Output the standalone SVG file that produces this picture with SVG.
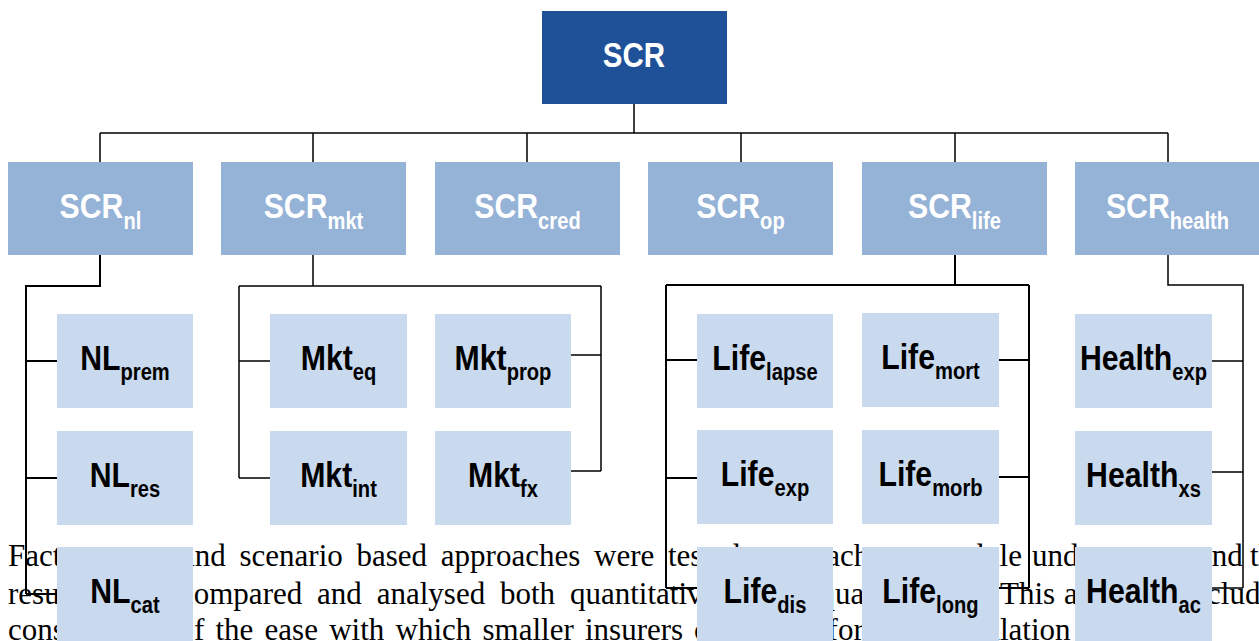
<svg xmlns="http://www.w3.org/2000/svg" width="1259" height="641" viewBox="0 0 1259 641">
<style>
.para{font-family:"Liberation Serif","Times New Roman",serif;font-size:31px;fill:#000}
.top{fill:#1F5199}
.mid{fill:#95B3D7}
.leaf{fill:#C9D9EE}
.lbl{font-family:"Liberation Sans","Arial",sans-serif;font-weight:bold;font-size:36px;text-anchor:middle}
.w{fill:#fff}
.b{fill:#000}
.sub{font-size:24px}
.conn{stroke:#000;stroke-width:1.5;fill:none}
.thick{stroke-width:2}
</style>
<rect width="1259" height="641" fill="#fff"/>
<g id="paragraph" class="para">
<text y="566"><tspan x="8">Factor</tspan><tspan x="181">and</tspan><tspan x="239.5">scenario</tspan><tspan x="356.5">based</tspan><tspan x="440.8">approaches</tspan><tspan x="594">were</tspan><tspan x="668">tested</tspan><tspan x="812.5">each</tspan><tspan x="929">module</tspan><tspan x="1032">under</tspan><tspan x="1198">and</tspan><tspan x="1250">the</tspan></text>
<text y="604"><tspan x="8">results</tspan><tspan x="180">compared</tspan><tspan x="317">and</tspan><tspan x="376.7">analysed</tspan><tspan x="500">both</tspan><tspan x="570">quantitatively</tspan><tspan x="819.5">qualitatively.</tspan><tspan x="1000">This</tspan><tspan x="1064">analysis</tspan><tspan x="1183">included</tspan></text>
<text y="640"><tspan x="8">consideration</tspan><tspan x="178.5">of</tspan><tspan x="215.5">the</tspan><tspan x="264.6">ease</tspan><tspan x="329.2">with</tspan><tspan x="395.5">which</tspan><tspan x="482.5">smaller</tspan><tspan x="585">insurers</tspan><tspan x="694">could</tspan><tspan x="788">perform</tspan><tspan x="934.6">calculation</tspan></text>
</g>
<g id="connectors" class="conn">
<path d="M634 104V133M100 133H1168M100 133V162M313 133V162M527 133V162M741 133V162M955 133V162M1168 133V162"/>
<path class="thick" d="M100 255V286H26V594M26 361H57M26 478H57M26 594H57"/>
<path d="M313 255V286M239 286H601M239 286V478M239 361H270M239 478H270M601 286V471M571 355H601M571 471H601"/>
<path class="thick" d="M955 255V285M666 285H1029M666 285V588M666 360H697M666 478H697M666 588H697M1029 285V588M999 360H1029M999 477H1029M999 588H1029"/>
<path d="M1168 255V285H1243V588M1212 361H1243M1212 472H1243M1212 588H1243"/>
</g>
<g id="scr"><rect class="top" x="542" y="11" width="185" height="93"/><text class="lbl w" transform="translate(634 67) scale(0.82 1)">SCR</text></g>
<g id="scr-nl"><rect class="mid" x="8" y="162" width="185" height="93"/><text class="lbl w" transform="translate(100.5 218) scale(0.84 1)">SCR<tspan class="sub" dy="11">nl</tspan></text></g>
<g id="scr-mkt"><rect class="mid" x="221" y="162" width="185" height="93"/><text class="lbl w" transform="translate(313.5 218) scale(0.84 1)">SCR<tspan class="sub" dy="11">mkt</tspan></text></g>
<g id="scr-cred"><rect class="mid" x="435" y="162" width="185" height="93"/><text class="lbl w" transform="translate(527.5 218) scale(0.84 1)">SCR<tspan class="sub" dy="11">cred</tspan></text></g>
<g id="scr-op"><rect class="mid" x="648" y="162" width="185" height="93"/><text class="lbl w" transform="translate(740.5 218) scale(0.84 1)">SCR<tspan class="sub" dy="11">op</tspan></text></g>
<g id="scr-life"><rect class="mid" x="862" y="162" width="185" height="93"/><text class="lbl w" transform="translate(954.5 218) scale(0.84 1)">SCR<tspan class="sub" dy="11">life</tspan></text></g>
<g id="scr-health"><rect class="mid" x="1075" y="162" width="185" height="93"/><text class="lbl w" transform="translate(1167.5 218) scale(0.84 1)">SCR<tspan class="sub" dy="11">health</tspan></text></g>
<g id="nl-prem"><rect class="leaf" x="57" y="314" width="136" height="94"/><text class="lbl b" transform="translate(125 370) scale(0.84 1)">NL<tspan class="sub" dy="10">prem</tspan></text></g>
<g id="nl-res"><rect class="leaf" x="57" y="431" width="136" height="94"/><text class="lbl b" transform="translate(125 487) scale(0.84 1)">NL<tspan class="sub" dy="10">res</tspan></text></g>
<g id="nl-cat"><rect class="leaf" x="57" y="547" width="136" height="94"/><text class="lbl b" transform="translate(125 603) scale(0.84 1)">NL<tspan class="sub" dy="10">cat</tspan></text></g>
<g id="mkt-eq"><rect class="leaf" x="270" y="314" width="137" height="94"/><text class="lbl b" transform="translate(338.5 370) scale(0.84 1)">Mkt<tspan class="sub" dy="10">eq</tspan></text></g>
<g id="mkt-int"><rect class="leaf" x="270" y="431" width="137" height="94"/><text class="lbl b" transform="translate(338.5 487) scale(0.84 1)">Mkt<tspan class="sub" dy="10">int</tspan></text></g>
<g id="mkt-prop"><rect class="leaf" x="435" y="314" width="136" height="94"/><text class="lbl b" transform="translate(503 370) scale(0.84 1)">Mkt<tspan class="sub" dy="10">prop</tspan></text></g>
<g id="mkt-fx"><rect class="leaf" x="435" y="431" width="136" height="94"/><text class="lbl b" transform="translate(503 487) scale(0.84 1)">Mkt<tspan class="sub" dy="10">fx</tspan></text></g>
<g id="life-lapse"><rect class="leaf" x="697" y="314" width="136" height="94"/><text class="lbl b" transform="translate(765 370) scale(0.84 1)">Life<tspan class="sub" dy="10">lapse</tspan></text></g>
<g id="life-mort"><rect class="leaf" x="862" y="313" width="137" height="94"/><text class="lbl b" transform="translate(930.5 369) scale(0.84 1)">Life<tspan class="sub" dy="10">mort</tspan></text></g>
<g id="life-exp"><rect class="leaf" x="697" y="430" width="136" height="94"/><text class="lbl b" transform="translate(765 486) scale(0.84 1)">Life<tspan class="sub" dy="10">exp</tspan></text></g>
<g id="life-morb"><rect class="leaf" x="862" y="430" width="137" height="94"/><text class="lbl b" transform="translate(930.5 486) scale(0.84 1)">Life<tspan class="sub" dy="10">morb</tspan></text></g>
<g id="life-dis"><rect class="leaf" x="697" y="547" width="136" height="94"/><text class="lbl b" transform="translate(765 603) scale(0.84 1)">Life<tspan class="sub" dy="10">dis</tspan></text></g>
<g id="life-long"><rect class="leaf" x="862" y="547" width="137" height="94"/><text class="lbl b" transform="translate(930.5 603) scale(0.84 1)">Life<tspan class="sub" dy="10">long</tspan></text></g>
<g id="health-exp"><rect class="leaf" x="1075" y="314" width="137" height="94"/><text class="lbl b" transform="translate(1143.5 370) scale(0.84 1)">Health<tspan class="sub" dy="10">exp</tspan></text></g>
<g id="health-xs"><rect class="leaf" x="1075" y="431" width="137" height="94"/><text class="lbl b" transform="translate(1143.5 487) scale(0.84 1)">Health<tspan class="sub" dy="10">xs</tspan></text></g>
<g id="health-ac"><rect class="leaf" x="1075" y="547" width="137" height="94"/><text class="lbl b" transform="translate(1143.5 603) scale(0.84 1)">Health<tspan class="sub" dy="10">ac</tspan></text></g>
</svg>
